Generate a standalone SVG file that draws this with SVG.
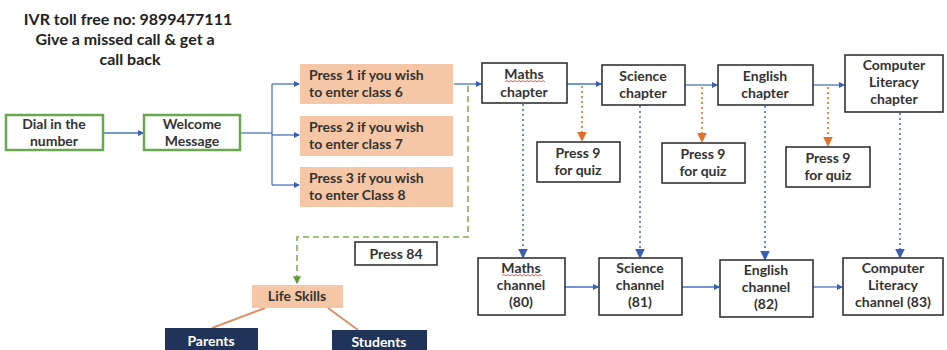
<svg xmlns="http://www.w3.org/2000/svg" width="947" height="350" viewBox="0 0 947 350">
<style>
text{font-family:Lato,"Liberation Sans",sans-serif;fill:#333;text-anchor:middle}
.t{font-size:16px;font-weight:700;fill:#222}
.g rect{fill:#fff;stroke:#6aa84f;stroke-width:2.5}
.g text{font-size:14px;font-weight:700}
.o rect{fill:#f6c7a6}
.o text{font-size:14px;font-weight:700;text-anchor:start}
.b rect{fill:#fff;stroke:#333;stroke-width:1.6}
.b text{font-size:14px;font-weight:700}
.n rect{fill:#1f3458}
.n text{font-size:14px;font-weight:700;fill:#fff}
.bl{stroke:#4a74c4;stroke-width:1.3;fill:none}
.bd{stroke:#6c8ed0;stroke-width:2;fill:none;stroke-dasharray:2 3}
.od{stroke:#ed8a45;stroke-width:2;fill:none;stroke-dasharray:2 3}
.gd{stroke:#7fb24f;stroke-width:1.6;fill:none;stroke-dasharray:6 4}
.ol{stroke:#d9956a;stroke-width:2;fill:none}
.sp{stroke:#e03030;stroke-width:0.8;fill:none}
</style>
<defs>
<marker id="ab" viewBox="0 0 6 6" refX="5" refY="3" markerWidth="5" markerHeight="5" orient="auto"><path d="M0,0L6,3L0,6z" fill="#3a5fb0"/></marker>
<marker id="ao" viewBox="0 0 6 6" refX="5" refY="3" markerWidth="5" markerHeight="5" orient="auto"><path d="M0,0L6,3L0,6z" fill="#e0702a"/></marker>
<marker id="ag" viewBox="0 0 6 6" refX="5" refY="3" markerWidth="5" markerHeight="5" orient="auto"><path d="M0,0L6,3L0,6z" fill="#5e9a35"/></marker>
</defs>
<g id="title">
<text class="t" x="128" y="25">IVR toll free no: 9899477111</text>
<text class="t" x="125" y="45">Give a missed call &amp; get a</text>
<text class="t" x="130" y="65">call back</text>
</g>
<g id="connectors">
<path class="bl" d="M103,133H143" marker-end="url(#ab)"/>
<path class="bl" d="M240,133H272"/>
<path class="bl" d="M272,84V185"/>
<path class="bl" d="M272,84H299" marker-end="url(#ab)"/>
<path class="bl" d="M272,135H299" marker-end="url(#ab)"/>
<path class="bl" d="M272,185H299" marker-end="url(#ab)"/>
<path class="bl" d="M454,84H481" marker-end="url(#ab)"/>
<path class="bl" d="M567,84H601" marker-end="url(#ab)"/>
<path class="bl" d="M685,85H717" marker-end="url(#ab)"/>
<path class="bl" d="M813,85H844" marker-end="url(#ab)"/>
<path class="od" d="M582,86V140" marker-end="url(#ao)"/>
<path class="od" d="M702,87V141" marker-end="url(#ao)"/>
<path class="od" d="M828,87V145" marker-end="url(#ao)"/>
<path class="bd" d="M523,104V257" marker-end="url(#ab)"/>
<path class="bd" d="M640,106V257" marker-end="url(#ab)"/>
<path class="bd" d="M765,106V259" marker-end="url(#ab)"/>
<path class="bd" d="M900,113V257" marker-end="url(#ab)"/>
<path class="bl" d="M565,287H598" marker-end="url(#ab)"/>
<path class="bl" d="M682,287H719" marker-end="url(#ab)"/>
<path class="bl" d="M813,287H842" marker-end="url(#ab)"/>
<path class="gd" d="M468,86V237H297V283" marker-end="url(#ag)"/>
<path class="ol" d="M265,308L212,328"/>
<path class="ol" d="M328,308L358,330"/>
</g>
<g id="dial" class="g"><rect x="6" y="115" width="97" height="35"/><text x="54" y="129">Dial in the</text><text x="54" y="146">number</text></g>
<g id="welcome" class="g"><rect x="144" y="115" width="96" height="35"/><text x="192" y="129">Welcome</text><text x="192" y="146">Message</text></g>
<g id="press1" class="o"><rect x="300" y="64" width="153" height="40"/><text x="309" y="80">Press 1 if you wish</text><text x="309" y="97">to enter class 6</text></g>
<g id="press2" class="o"><rect x="300" y="116" width="153" height="40"/><text x="309" y="132">Press 2 if you wish</text><text x="309" y="149">to enter class 7</text></g>
<g id="press3" class="o"><rect x="300" y="167" width="153" height="40"/><text x="309" y="183">Press 3 if you wish</text><text x="309" y="200">to enter Class 8</text></g>
<g id="maths-chapter" class="b"><rect x="482" y="63" width="85" height="40"/><text x="524" y="79">Maths</text><text x="524" y="97">chapter</text><path class="sp" d="M505,82l2,-1.5l2,1.5l2,-1.5l2,1.5l2,-1.5l2,1.5l2,-1.5l2,1.5l2,-1.5l2,1.5l2,-1.5l2,1.5l2,-1.5l2,1.5l2,-1.5l2,1.5l2,-1.5l2,1.5l2,-1.5l2,1.5"/></g>
<g id="science-chapter" class="b"><rect x="602" y="65" width="83" height="40"/><text x="643" y="81">Science</text><text x="643" y="98">chapter</text></g>
<g id="english-chapter" class="b"><rect x="718" y="65" width="95" height="40"/><text x="765" y="81">English</text><text x="765" y="98">chapter</text></g>
<g id="cl-chapter" class="b"><rect x="845" y="55" width="98" height="57"/><text x="894" y="70">Computer</text><text x="894" y="87">Literacy</text><text x="894" y="104">chapter</text></g>
<g id="quiz1" class="b"><rect x="537" y="142" width="83" height="40"/><text x="578" y="158">Press 9</text><text x="578" y="175">for quiz</text></g>
<g id="quiz2" class="b"><rect x="662" y="143" width="83" height="40"/><text x="703" y="159">Press 9</text><text x="703" y="176">for quiz</text></g>
<g id="quiz3" class="b"><rect x="786" y="147" width="84" height="40"/><text x="828" y="163">Press 9</text><text x="828" y="180">for quiz</text></g>
<g id="maths-channel" class="b"><rect x="478" y="258" width="87" height="57"/><text x="521" y="273">Maths</text><text x="521" y="290">channel</text><text x="521" y="307">(80)</text><path class="sp" d="M502,276l2,-1.5l2,1.5l2,-1.5l2,1.5l2,-1.5l2,1.5l2,-1.5l2,1.5l2,-1.5l2,1.5l2,-1.5l2,1.5l2,-1.5l2,1.5l2,-1.5l2,1.5l2,-1.5l2,1.5l2,-1.5l2,1.5"/></g>
<g id="science-channel" class="b"><rect x="599" y="258" width="83" height="57"/><text x="640" y="273">Science</text><text x="640" y="290">channel</text><text x="640" y="307">(81)</text></g>
<g id="english-channel" class="b"><rect x="720" y="260" width="93" height="57"/><text x="766" y="275">English</text><text x="766" y="292">channel</text><text x="766" y="309">(82)</text></g>
<g id="cl-channel" class="b"><rect x="843" y="258" width="100" height="57"/><text x="893" y="273">Computer</text><text x="893" y="290">Literacy</text><text x="893" y="307">channel (83)</text></g>
<g id="press84" class="b"><rect x="355" y="242" width="82" height="23"/><text x="396" y="259">Press 84</text></g>
<g id="life-skills" class="o"><rect x="252" y="285" width="91" height="23"/><text x="297" y="301" style="text-anchor:middle">Life Skills</text></g>
<g id="parents" class="n"><rect x="165" y="328" width="93" height="24"/><text x="211" y="346">Parents</text></g>
<g id="students" class="n"><rect x="332" y="330" width="95" height="22"/><text x="379" y="347">Students</text></g>
</svg>
